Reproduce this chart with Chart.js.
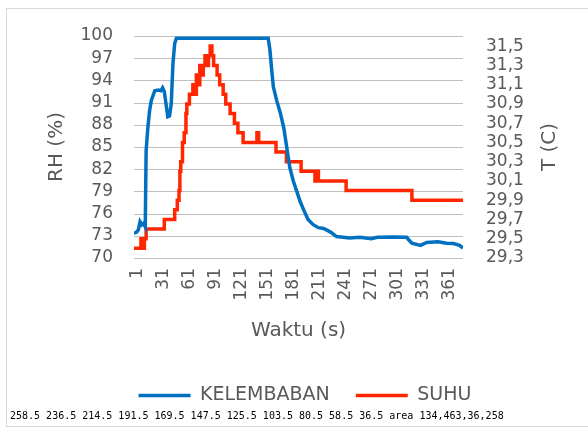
<!DOCTYPE html>
<html>
<head>
<meta charset="utf-8">
<script src="https://cdn.jsdelivr.net/npm/chart.js@4/dist/chart.umd.min.js"></script>
<style>
  html, body { margin: 0; padding: 0; background: #fff; overflow: hidden; }
  #frame { position: absolute; left: 6px; top: 8px; width: 620px; height: 417px; border: 1px solid #d9d9d9; }
  #myChart { position: absolute; left: 0; top: 0; }
  #dbg { position: absolute; left: 10px; top: 410px; font: 10px monospace; color: #000; }
</style>
</head>
<body>
<div id="frame"></div>
<canvas id="myChart" width="588" height="428"></canvas>
<div id="dbg"></div>
<script>
// waktu (s) where the humidity line changes direction, and RH (%) read there
var waktuKelembaban = [1, 4, 6, 8, 10, 12, 14, 15, 17, 19, 21, 25, 29, 32, 34, 36, 38, 40, 42, 44,
    46, 48, 50, 156, 158, 160, 162, 166, 170, 174, 178, 181, 185, 189, 193, 197, 202, 208, 214, 220,
    228, 235, 250, 262, 275, 282, 300, 316, 318, 322, 332, 339, 352, 362, 370, 377, 381];
var kelembaban = [73.3, 73.5, 73.8, 74.9, 74.5, 74.7, 74.2, 84.5, 87.6, 89.9, 91.3, 92.6, 92.7, 92.6, 93.0, 92.5, 90.8, 89.1, 89.2, 90.8,
    96.3, 99.0, 99.7, 99.7, 98.1, 95.5, 93.1, 91.2, 89.6, 87.6, 84.5, 82.2, 80.4, 79.0, 77.6, 76.5, 75.2, 74.5, 74.1, 74.0,
    73.5, 72.9, 72.7, 72.8, 72.6, 72.8, 72.85, 72.8, 72.5, 72.0, 71.7, 72.1, 72.2, 72.0, 71.95, 71.7, 71.35];

// waktu (s) where the temperature steps to a new value, and T (C)
var waktuSuhu = [1, 9, 11, 13, 15, 36, 48, 51, 53, 54, 55, 57, 59, 61, 62, 65, 69, 72, 73, 76,
    77, 80, 81, 83, 85, 87, 89, 91, 93, 97, 100, 104, 107, 112, 117, 121, 127, 143, 145, 165,
    177, 194, 210, 212, 214, 246, 322, 381];
var suhu = [29.4, 29.5, 29.4, 29.5, 29.6, 29.7, 29.8, 29.9, 30.0, 30.2, 30.3, 30.5, 30.6, 30.8, 30.9, 31.0, 31.1, 31.0, 31.2, 31.1,
    31.3, 31.2, 31.3, 31.4, 31.3, 31.4, 31.5, 31.4, 31.3, 31.2, 31.1, 31.0, 30.9, 30.8, 30.7, 30.6, 30.5, 30.6, 30.5, 30.4,
    30.3, 30.2, 30.1, 30.2, 30.1, 30.0, 29.9, 29.9];

var xTicks = [1, 31, 61, 91, 121, 151, 181, 211, 241, 271, 301, 331, 361];
var rhTicks = [70, 73, 76, 79, 82, 85, 88, 91, 94, 97, 100];
var tTicks = [29.3, 29.5, 29.7, 29.9, 30.1, 30.3, 30.5, 30.7, 30.9, 31.1, 31.3, 31.5];

var seriesNames = ['KELEMBABAN', 'SUHU'];
var axisTitles = { x: 'Waktu (s)', rh: 'RH (%)', t: 'T (C)' };

var textColor = '#595959';
var gridColor = '#bfbfbf';
var dbgInfo = [];

function toPoints(xs, ys) {
    var pts = [];
    for (var i = 0; i < xs.length; i++) {
        pts.push({ x: xs[i], y: ys[i] });
    }
    return pts;
}

function setTicks(values) {
    return function(scale) {
        scale.ticks = values.map(function(v) { return { value: v }; });
    };
}

// horizontal gridlines at the RH ticks
var rhGrid = {
    id: 'rhGrid',
    beforeDatasetsDraw: function(chart) {
        var s = chart.scales.y;
        var area = chart.chartArea;
        var c = chart.ctx;
        c.save();
        c.strokeStyle = gridColor;
        c.lineWidth = 1;
        rhTicks.forEach(function(v) {
            var py = Math.round(s.getPixelForValue(v)) + 0.5;
            dbgInfo.push(py);
            c.beginPath();
            c.moveTo(area.left, py);
            c.lineTo(area.right, py);
            c.stroke();
        });
        c.restore();
        dbgInfo.push('area ' + area.left + ',' + area.right + ',' + area.top + ',' + area.bottom);
    }
};

// right axis title reads bottom-to-top like the left one
var rightTitle = {
    id: 'rightTitle',
    afterDraw: function(chart) {
        var s = chart.scales.y1;
        var c = chart.ctx;
        c.save();
        c.translate(s.right - 20, (s.top + s.bottom) / 2);
        c.rotate(-Math.PI / 2);
        c.font = '20px "DejaVu Sans"';
        c.fillStyle = textColor;
        c.textAlign = 'center';
        c.textBaseline = 'middle';
        c.fillText(axisTitles.t, 0, 0);
        c.restore();
    }
};

var ctx = document.getElementById('myChart').getContext('2d');
var myChart = new Chart(ctx, {
    type: 'line',
    data: {
        datasets: [{
            label: seriesNames[0],
            data: toPoints(waktuKelembaban, kelembaban),
            borderColor: '#0070c0',
            backgroundColor: '#0070c0',
            borderWidth: 3.5,
            pointRadius: 0,
            tension: 0,
            yAxisID: 'y'
        }, {
            label: seriesNames[1],
            data: toPoints(waktuSuhu, suhu),
            borderColor: '#ff2600',
            backgroundColor: '#ff2600',
            borderWidth: 3.5,
            pointRadius: 0,
            stepped: true,
            yAxisID: 'y1'
        }]
    },
    options: {
        responsive: false,
        animation: false,
        devicePixelRatio: 1,
        layout: { padding: { left: 40, right: 18, top: 36, bottom: 13 } },
        plugins: {
            tooltip: { enabled: false },
            legend: {
                position: 'bottom',
                labels: {
                    usePointStyle: true,
                    pointStyle: 'line',
                    pointStyleWidth: 52,
                    padding: 26,
                    color: textColor,
                    font: { family: 'DejaVu Sans', size: 19 }
                }
            }
        },
        scales: {
            x: {
                type: 'linear',
                min: 1,
                max: 381,
                afterBuildTicks: setTicks(xTicks),
                afterFit: function(s) { s.height = 102; s.paddingLeft = 0; s.paddingRight = 0; },
                grid: { display: false },
                border: { display: false },
                ticks: {
                    autoSkip: false,
                    minRotation: 90,
                    maxRotation: 90,
                    padding: 2,
                    labelOffset: 4,
                    color: textColor,
                    font: { family: 'DejaVu Sans', size: 17 }
                },
                title: {
                    display: true,
                    text: axisTitles.x,
                    color: textColor,
                    font: { family: 'DejaVu Sans', size: 20 },
                    padding: { top: 0, bottom: 17 }
                }
            },
            y: {
                position: 'left',
                min: rhTicks[0],
                max: rhTicks[rhTicks.length - 1],
                afterFit: function(s) { s.width = 94; s.paddingTop = 0; s.paddingBottom = 0; },
                grid: { display: false, drawTicks: false },
                border: { display: false },
                ticks: {
                    stepSize: rhTicks[1] - rhTicks[0],
                    autoSkip: false,
                    padding: 21,
                    color: textColor,
                    font: { family: 'DejaVu Sans', size: 17 }
                },
                title: {
                    display: true,
                    text: axisTitles.rh,
                    color: textColor,
                    font: { family: 'DejaVu Sans', size: 20 },
                    padding: { top: 5, bottom: 0 }
                }
            },
            y1: {
                position: 'right',
                min: 29.3,
                max: 31.605,
                afterBuildTicks: setTicks(tTicks),
                afterFit: function(s) { s.width = 107; s.paddingTop = 0; s.paddingBottom = 0; },
                grid: { display: false, drawTicks: false },
                border: { display: false },
                ticks: {
                    autoSkip: false,
                    padding: 23,
                    color: textColor,
                    font: { family: 'DejaVu Sans', size: 17 },
                    callback: function(v) { return v.toFixed(1).replace('.', ','); }
                }
            }
        }
    },
    plugins: [rhGrid, rightTitle]
});
document.getElementById('dbg').textContent = dbgInfo.join(' ');
</script>
</body>
</html>
